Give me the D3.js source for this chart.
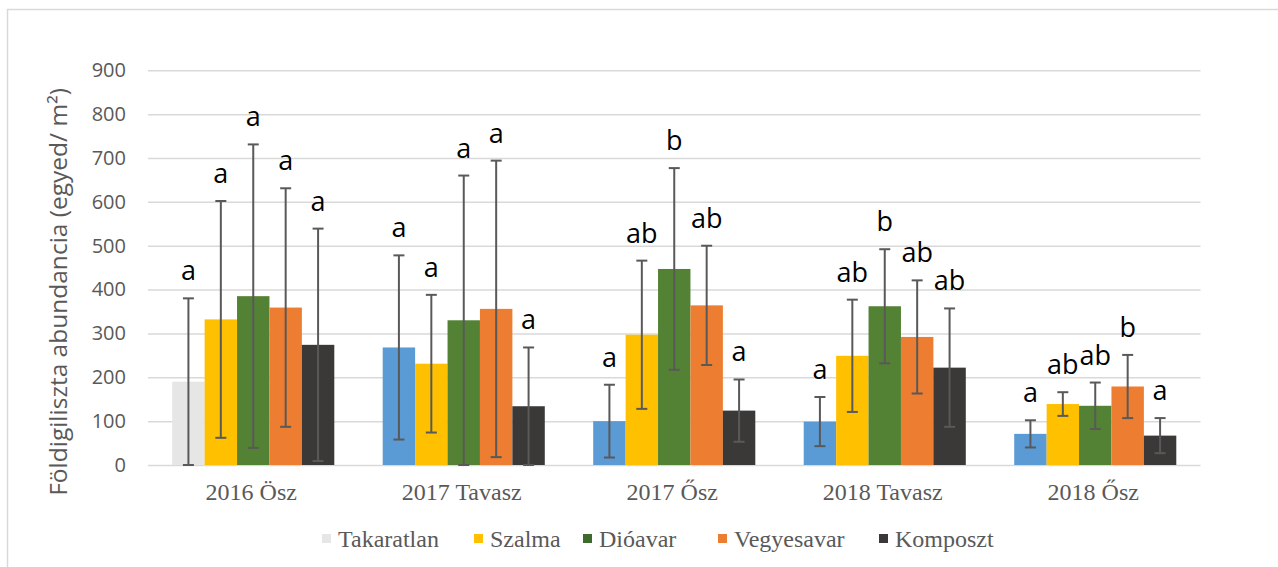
<!DOCTYPE html>
<html>
<head>
<meta charset="utf-8">
<script src="https://cdn.jsdelivr.net/npm/d3@7"></script>
<style>
  html, body { margin: 0; padding: 0; background: #fff; }
  svg { display: block; }
</style>
</head>
<body>
<svg id="chart" width="1278" height="567"></svg>
<script>
// Sampling periods (x categories)
const categories = ["2016 Ösz", "2017 Tavasz", "2017 Ősz", "2018 Tavasz", "2018 Ősz"];
// Mulch treatments (series)
const series = ["Takaratlan", "Szalma", "Dióavar", "Vegyesavar", "Komposzt"];

// Mean earthworm abundance (individuals / m²) per treatment, one value per period
const takaratlan = [190, 268, 100, 99, 71];
const szalma     = [332, 231, 297, 249, 139];
const dioavar    = [385, 330, 447, 362, 135];
const vegyesavar = [359, 356, 364, 292, 179];
const komposzt   = [274, 134, 124, 222, 67];

// Standard deviations (error bars)
const takaratlanErr = [190, 210, 83, 56, 31];
const szalmaErr     = [270, 157, 169, 128, 27];
const dioavarErr    = [346, 330, 230, 130, 53];
const vegyesavarErr = [272, 338, 136, 129, 72];
const komposztErr   = [265, 134, 71, 135, 40];

// Significance letters
const takaratlanSig = ["a", "a", "a", "a", "a"];
const szalmaSig     = ["a", "a", "ab", "ab", "ab"];
const dioavarSig    = ["a", "a", "b", "b", "ab"];
const vegyesavarSig = ["a", "a", "ab", "ab", "b"];
const komposztSig   = ["a", "a", "a", "ab", "a"];

// Y axis ticks
const yTicks = [0, 100, 200, 300, 400, 500, 600, 700, 800, 900];

const values  = [takaratlan, szalma, dioavar, vegyesavar, komposzt];
const errors  = [takaratlanErr, szalmaErr, dioavarErr, vegyesavarErr, komposztErr];
const letters = [takaratlanSig, szalmaSig, dioavarSig, vegyesavarSig, komposztSig];

const colors = ["#5b9bd5", "#ffc000", "#548235", "#ed7d31", "#3b3838"];
const legendColors = ["#e7e6e6", "#ffc000", "#3e6a2b", "#ed7d31", "#3b3838"];
const unmulchedFirst = "#e7e6e6";

const svg = d3.select("#chart");

// outer frame
svg.append("rect")
  .attr("x", 7.5).attr("y", 9.5)
  .attr("width", 1400).attr("height", 700)
  .attr("fill", "none")
  .attr("stroke", "#d9d9d9")
  .attr("stroke-width", 1.5);

const plotL = 148, plotR = 1200.5, plotT = 70.3, plotB = 465;

const y = d3.scaleLinear().domain([0, 900]).range([plotB, plotT]);
const x0 = d3.scaleBand().domain(categories).range([plotL, plotR])
  .paddingInner(0.23).paddingOuter(0.115);
const x1 = d3.scaleBand().domain(series).range([0, x0.bandwidth()]);

// gridlines + tick labels
const yAxis = d3.axisLeft(y).tickValues(yTicks).tickSize(-(plotR - plotL)).tickPadding(22);
const gy = svg.append("g").attr("transform", `translate(${plotL},0)`).call(yAxis);
gy.select(".domain").remove();
gy.selectAll(".tick line").attr("stroke", "#d9d9d9").attr("stroke-width", 1.5);
gy.selectAll(".tick text")
  .attr("fill", "#595959")
  .attr("font-family", "'Open Sans', sans-serif")
  .attr("font-size", 20);

// bars
const rows = [];
categories.forEach((c, ci) => {
  series.forEach((s, si) => {
    rows.push({
      cat: c, ser: s, ci, si,
      v: values[si][ci], e: errors[si][ci], sig: letters[si][ci]
    });
  });
});

const gBars = svg.append("g");
gBars.selectAll("rect").data(rows).join("rect")
  .attr("x", d => x0(d.cat) + x1(d.ser))
  .attr("y", d => y(d.v))
  .attr("width", x1.bandwidth())
  .attr("height", d => y(0) - y(d.v))
  .attr("fill", d => (d.si === 0 && d.ci === 0) ? unmulchedFirst : colors[d.si]);

// error bars
const cx = d => x0(d.cat) + x1(d.ser) + x1.bandwidth() / 2;
const capW = 11;
const gErr = svg.append("g").attr("stroke", "#595959").attr("stroke-width", 2);
gErr.selectAll("line.v").data(rows).join("line").attr("class", "v")
  .attr("x1", cx).attr("x2", cx)
  .attr("y1", d => y(d.v + d.e)).attr("y2", d => y(Math.max(0, d.v - d.e)));
gErr.selectAll("line.t").data(rows).join("line").attr("class", "t")
  .attr("x1", d => cx(d) - capW / 2).attr("x2", d => cx(d) + capW / 2)
  .attr("y1", d => y(d.v + d.e)).attr("y2", d => y(d.v + d.e));
gErr.selectAll("line.b").data(rows).join("line").attr("class", "b")
  .attr("x1", d => cx(d) - capW / 2).attr("x2", d => cx(d) + capW / 2)
  .attr("y1", d => y(Math.max(0, d.v - d.e))).attr("y2", d => y(Math.max(0, d.v - d.e)));

// significance letters
svg.append("g").selectAll("text").data(rows).join("text")
  .attr("x", cx)
  .attr("y", d => y(d.v + d.e) - 18)
  .attr("text-anchor", "middle")
  .attr("font-family", "'Open Sans', sans-serif")
  .attr("font-size", 27)
  .attr("fill", "#000")
  .text(d => d.sig);

// category labels
svg.append("g").selectAll("text").data(categories).join("text")
  .attr("x", d => x0(d) + x0.bandwidth() / 2 - 2)
  .attr("y", 500)
  .attr("text-anchor", "middle")
  .attr("font-family", "'Liberation Serif', 'Times New Roman', serif")
  .attr("font-size", 24)
  .attr("fill", "#595959")
  .text(d => d);

// y axis title
svg.append("text")
  .attr("transform", "translate(67,292) rotate(-90)")
  .attr("text-anchor", "middle")
  .attr("font-family", "'Open Sans', sans-serif")
  .attr("font-size", 24.5)
  .attr("fill", "#595959")
  .text("Földigiliszta abundancia (egyed/ m²)");

// legend
const legendX = [322, 474, 583, 718, 879];
const lg = svg.append("g");
series.forEach((s, i) => {
  lg.append("rect")
    .attr("x", legendX[i]).attr("y", 534)
    .attr("width", 9).attr("height", 9)
    .attr("fill", legendColors[i]);
  lg.append("text")
    .attr("x", legendX[i] + 16).attr("y", 547)
    .attr("font-family", "'Liberation Serif', 'Times New Roman', serif")
    .attr("font-size", 24)
    .attr("fill", "#595959")
    .text(s);
});
</script>
</body>
</html>
